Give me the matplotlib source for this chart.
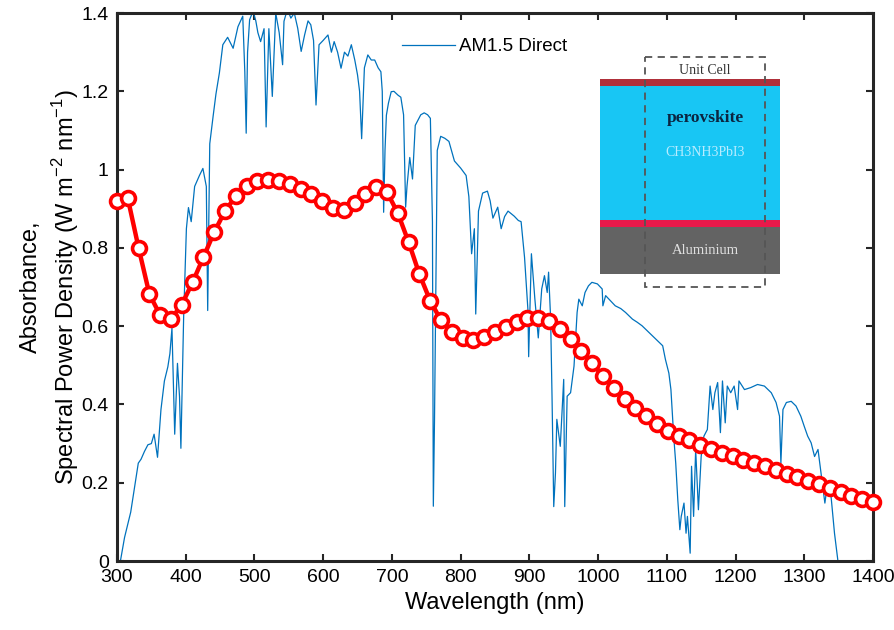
import numpy as np
import matplotlib
matplotlib.use("Agg")
import matplotlib.pyplot as plt
from matplotlib.patches import Rectangle

# absorbance curve (71 evenly spaced samples 300..1400 nm)
abs_wl = np.linspace(300, 1400, 71)
absorbance = [0.921, 0.927, 0.800, 0.682, 0.628, 0.618, 0.655, 0.712, 0.776, 0.840,
              0.894, 0.932, 0.958, 0.970, 0.973, 0.970, 0.962, 0.951, 0.937, 0.919,
              0.902, 0.898, 0.915, 0.937, 0.956, 0.943, 0.889, 0.815, 0.733, 0.665,
              0.615, 0.584, 0.569, 0.565, 0.573, 0.585, 0.599, 0.611, 0.621, 0.621,
              0.612, 0.594, 0.568, 0.537, 0.505, 0.473, 0.443, 0.415, 0.392, 0.370,
              0.349, 0.333, 0.320, 0.308, 0.296, 0.287, 0.276, 0.268, 0.259, 0.250,
              0.242, 0.233, 0.223, 0.215, 0.205, 0.197, 0.186, 0.176, 0.167, 0.159,
              0.151]

# AM1.5 direct spectrum
am_wl = [300, 305, 311, 320, 324, 328, 331, 335, 340, 345, 350, 354, 359, 364, 369, 374,
         377, 380, 384, 388, 391, 393, 397, 401, 404, 408, 413, 420, 425, 430, 432, 435,
         440, 444, 449, 454, 461, 469, 476, 483, 486, 488, 490, 493, 498, 502, 505, 509,
         514, 517, 521, 526, 531, 536, 541, 543, 548, 553, 558, 563, 568, 573, 578, 582,
         586, 589.6, 594, 600, 607, 612, 616, 621, 626, 631, 636, 641, 646, 650, 653, 656,
         660, 665, 670, 675, 680, 684, 686, 688, 690, 692, 695, 699, 703, 709, 713, 717,
         720, 722, 726, 730, 734, 742, 747, 752, 756, 759, 760.3, 762, 766, 771, 777, 783,
         791, 800, 808, 812, 816, 820, 822, 826, 832, 839, 843, 847, 854, 859, 864, 869,
         878, 884, 888, 893, 898, 899, 903, 908, 913, 918, 922, 926, 928, 931, 933, 935.5,
         938, 940, 945, 950, 951.5, 955, 960, 965, 969.5, 972, 977, 981, 986, 991, 999,
         1006, 1007, 1011, 1018, 1025, 1033, 1040, 1050, 1057, 1064, 1074, 1084, 1094,
         1098, 1103, 1106, 1110, 1113, 1116, 1119, 1121, 1125, 1128, 1130, 1134, 1136,
         1139, 1142, 1146, 1150, 1154, 1159, 1163, 1167, 1170, 1174, 1178, 1181, 1185,
         1188, 1193, 1198, 1203, 1205, 1213, 1222, 1232, 1242, 1252, 1259, 1264, 1266,
         1269, 1274, 1281, 1288, 1295, 1300, 1305, 1310, 1315, 1320, 1325, 1330, 1334,
         1339, 1344, 1349, 1400]
am_val = [0.0, 0.0, 0.06, 0.125, 0.17, 0.215, 0.25, 0.26, 0.28, 0.297, 0.30, 0.324, 0.265,
          0.387, 0.46, 0.496, 0.53, 0.595, 0.324, 0.505, 0.42, 0.288, 0.623, 0.849, 0.903,
          0.867, 0.957, 0.985, 1.003, 0.957, 0.64, 1.066, 1.138, 1.193, 1.247, 1.319, 1.338,
          1.31, 1.365, 1.392, 1.25, 1.093, 1.30, 1.383, 1.405, 1.38, 1.35, 1.327, 1.36,
          1.109, 1.36, 1.187, 1.40, 1.35, 1.268, 1.379, 1.41, 1.387, 1.40, 1.361, 1.302,
          1.344, 1.38, 1.37, 1.33, 1.165, 1.319, 1.33, 1.344, 1.30, 1.327, 1.30, 1.259,
          1.30, 1.29, 1.319, 1.28, 1.242, 1.20, 1.079, 1.26, 1.293, 1.28, 1.28, 1.26, 1.25,
          1.20, 0.891, 1.05, 1.139, 1.17, 1.199, 1.20, 1.19, 1.185, 1.14, 0.904, 0.958,
          1.031, 0.976, 1.113, 1.14, 1.145, 1.14, 1.131, 0.867, 0.14, 0.359, 1.049, 1.085,
          1.08, 1.072, 1.022, 1.004, 0.985, 0.931, 0.785, 0.849, 0.631, 0.894, 0.94, 0.945,
          0.92, 0.876, 0.904, 0.849, 0.88, 0.894, 0.881, 0.87, 0.867, 0.776, 0.64, 0.522,
          0.785, 0.67, 0.57, 0.695, 0.729, 0.686, 0.738, 0.618, 0.421, 0.139, 0.225, 0.362,
          0.293, 0.464, 0.139, 0.421, 0.43, 0.498, 0.635, 0.669, 0.652, 0.686, 0.703, 0.712,
          0.708, 0.695, 0.652, 0.678, 0.665, 0.652, 0.645, 0.635, 0.618, 0.61, 0.601, 0.584,
          0.567, 0.55, 0.515, 0.48, 0.438, 0.32, 0.25, 0.156, 0.08, 0.114, 0.148, 0.071,
          0.114, 0.02, 0.242, 0.114, 0.285, 0.131, 0.267, 0.319, 0.336, 0.447, 0.387, 0.43,
          0.456, 0.328, 0.46, 0.353, 0.447, 0.43, 0.447, 0.387, 0.46, 0.438, 0.443, 0.451,
          0.447, 0.43, 0.405, 0.37, 0.25, 0.387, 0.405, 0.408, 0.396, 0.37, 0.344, 0.319,
          0.302, 0.267, 0.285, 0.216, 0.148, 0.2, 0.165, 0.071, 0.0, 0.0]

xticks = list(range(300, 1401, 100))
yticks = [0, 0.2, 0.4, 0.6, 0.8, 1.0, 1.2, 1.4]
ytick_labels = ["0", "0.2", "0.4", "0.6", "0.8", "1", "1.2", "1.4"]

plt.rcParams["font.family"] = ["Liberation Sans", "DejaVu Sans"]

fig = plt.figure(figsize=(8.95, 6.3), dpi=100)
ax = fig.add_axes([0.1307, 0.1095, 0.8447, 0.8698])

blue, = ax.plot(am_wl, am_val, color="#0072BD", lw=0.9, label="AM1.5 Direct")
ax.plot(abs_wl, absorbance, color="#ff0000", lw=3.2, marker="o", ms=10,
        mfc="white", mec="#ff0000", mew=2.6, clip_on=False, zorder=5)

ax.set_xlim(300, 1400)
ax.set_ylim(0, 1.4)
ax.set_xticks(xticks)
ax.set_yticks(yticks)
ax.set_yticklabels(ytick_labels)
ax.tick_params(direction="in", length=5, width=1.5, labelsize=14, color="#262626",
               top=True, right=True, pad=6)
for s in ax.spines.values():
    s.set_linewidth(2.2)
    s.set_color("#262626")
ax.set_xlabel("Wavelength (nm)", fontsize=17, labelpad=4)
ax.set_ylabel("Absorbance,\nSpectral Power Density (W m$^{\\mathregular{-2}}$ nm$^{\\mathregular{-1}}$)",
              fontsize=17, labelpad=0, linespacing=1.35)

ax.legend(handles=[blue], loc="upper left", bbox_to_anchor=(0.355, 0.985), frameon=False,
          fontsize=13.5, handlelength=2.8, handletextpad=0.25)

# unit cell schematic (inset)
ins = fig.add_axes([600 / 895, 1 - 292 / 630, 180 / 895, 237 / 630])
ins.set_xlim(600, 780)
ins.set_ylim(292, 55)
ins.axis("off")
ins.add_patch(Rectangle((600, 79), 180, 7, color="#b0303a", lw=0))
ins.add_patch(Rectangle((600, 86), 180, 134, color="#18c6f4", lw=0))
ins.add_patch(Rectangle((600, 220), 180, 7, color="#e8194a", lw=0))
ins.add_patch(Rectangle((600, 227), 180, 47, color="#636363", lw=0))
ins.add_patch(Rectangle((645, 57), 120, 230, fill=False, ls=(0, (4, 3)), lw=1.3,
                        edgecolor="#555555", zorder=5))
serif = ["Liberation Serif", "DejaVu Serif"]
ins.text(705, 70, "Unit Cell", ha="center", va="center", fontsize=10, color="#333333",
         family=serif)
ins.text(705, 118, "perovskite", ha="center", va="center", fontsize=12.5,
         fontweight="bold", color="#0b2540", family=serif)
ins.text(705, 152, "CH3NH3PbI3", ha="center", va="center", fontsize=10, color="#b8ecff",
         family=serif)
ins.text(705, 250, "Aluminium", ha="center", va="center", fontsize=10.5, color="#e0e0e0",
         family=serif)

fig.savefig("out.png", dpi=100)
